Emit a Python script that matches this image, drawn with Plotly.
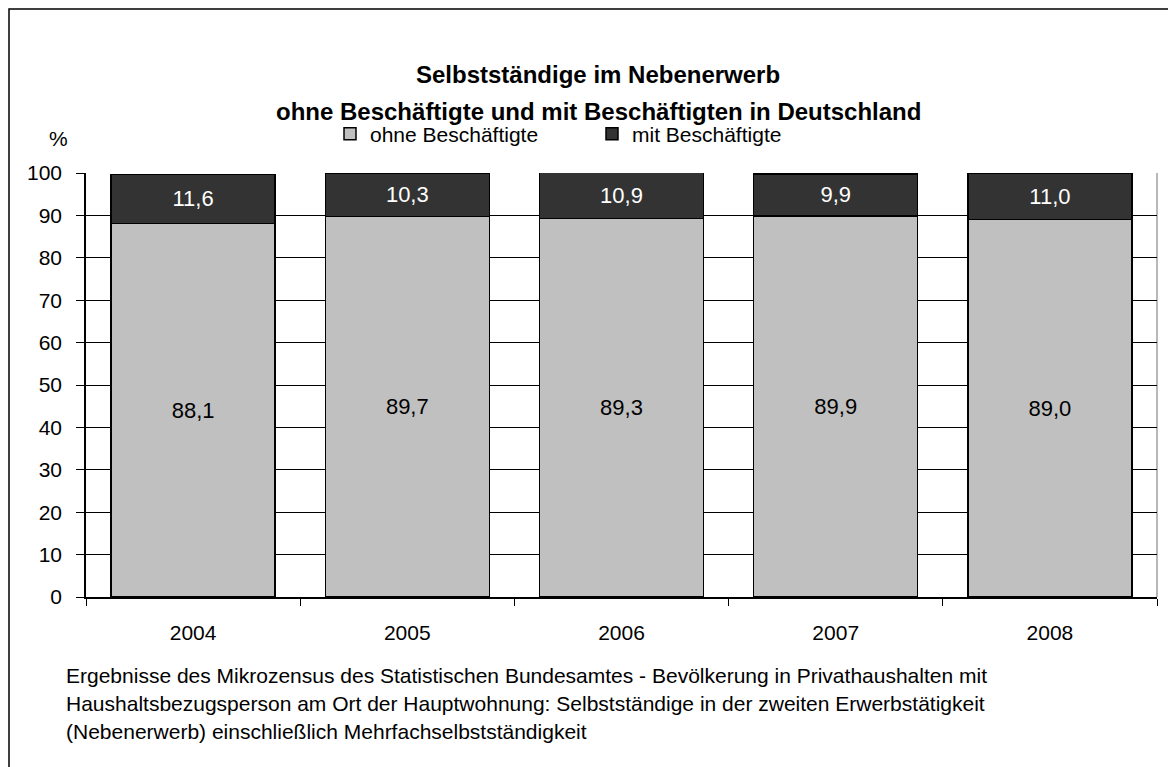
import plotly.graph_objects as go

years = ["2004", "2005", "2006", "2007", "2008"]
ohne = [88.1, 89.7, 89.3, 89.9, 89.0]
mit = [11.6, 10.3, 10.9, 9.9, 11.0]
series_names = ["ohne Beschäftigte", "mit Beschäftigte"]
title_lines = ["Selbstständige im Nebenerwerb",
               "ohne Beschäftigte und mit Beschäftigten in Deutschland"]
footnote_lines = [
    "Ergebnisse des Mikrozensus des Statistischen Bundesamtes - Bevölkerung in Privathaushalten mit",
    "Haushaltsbezugsperson am Ort der Hauptwohnung: Selbstständige in der zweiten Erwerbstätigkeit",
    "(Nebenerwerb) einschließlich Mehrfachselbstständigkeit",
]
y_ticks = [0, 10, 20, 30, 40, 50, 60, 70, 80, 90, 100]

FONT = "Liberation Sans, Arial, sans-serif"

# the page body has an 8px default margin; build the figure in window coordinates
OFF = 8
WIN_W, WIN_H = 1176, 767
W, H = WIN_W - OFF, WIN_H - OFF
PL, PR, PT, PB = 86, 1157, 173, 597  # plot area in window pixels
L, T = PL - OFF, PT - OFF
R, B = W - (PR - OFF), H - (PB - OFF)
pw, ph = PR - PL, PB - PT

def px_x(x):
    return (x - PL) / pw

def px_y(y):
    return (PB - y) / ph

fig = go.Figure()
fig.add_trace(go.Bar(
    x=years, y=ohne, name=series_names[0],
    marker=dict(color="#C0C0C0", line=dict(color="#000000", width=1.5)),
    texttemplate="%{y:.1f}", textposition="inside", insidetextanchor="middle",
    textfont=dict(color="#000000", size=22, family=FONT),
))
fig.add_trace(go.Bar(
    x=years, y=mit, name=series_names[1],
    marker=dict(color="#333333", line=dict(color="#000000", width=1.5)),
    texttemplate="%{y:.1f}", textposition="inside", insidetextanchor="middle",
    textfont=dict(color="#FFFFFF", size=22, family=FONT),
))

annotations = []
title_y = [74, 111]
for line, yy in zip(title_lines, title_y):
    annotations.append(dict(
        text="<b>" + line + "</b>", x=px_x(598), y=px_y(yy), xref="paper", yref="paper",
        xanchor="center", yanchor="middle", showarrow=False,
        font=dict(size=24, color="#000000", family=FONT)))
for i, line in enumerate(footnote_lines):
    annotations.append(dict(
        text=line, x=px_x(64), y=px_y(675 + 28 * i), xref="paper", yref="paper",
        xanchor="left", yanchor="middle", showarrow=False,
        font=dict(size=21, color="#000000", family=FONT)))
annotations.append(dict(
    text="%", x=px_x(58), y=px_y(138), xref="paper", yref="paper",
    xanchor="center", yanchor="middle", showarrow=False,
    font=dict(size=21, color="#000000", family=FONT)))

fig.update_layout(
    width=W, height=H,
    margin=dict(l=L, r=R, t=T, b=B, autoexpand=False),
    barmode="stack", bargap=0.234,
    separators=",.",
    paper_bgcolor="#FFFFFF", plot_bgcolor="#FFFFFF",
    font=dict(family=FONT, color="#000000"),
    showlegend=True,
    legend=dict(
        orientation="h", x=px_x(330), y=px_y(134), xanchor="left", yanchor="middle",
        font=dict(size=21, family=FONT), entrywidth=217, entrywidthmode="pixels",
        itemwidth=30, traceorder="normal", bgcolor="rgba(0,0,0,0)",
    ),
    annotations=annotations,
    shapes=[
        dict(type="rect", xref="paper", yref="paper",
             x0=px_x(OFF + 1), x1=px_x(WIN_W + 30), y0=px_y(OFF + 1), y1=px_y(WIN_H + 30),
             line=dict(color="#000000", width=1.5), fillcolor="rgba(0,0,0,0)", layer="below"),
        dict(type="line", xref="paper", yref="paper", x0=1, x1=1, y0=0, y1=1,
             line=dict(color="#A0A0A0", width=1.5), layer="below"),
    ],
    xaxis=dict(
        type="category", tickson="boundaries", ticks="outside", ticklen=7,
        tickcolor="#000000", tickwidth=1, showgrid=False,
        showline=True, linecolor="#000000", linewidth=1.5,
        tickfont=dict(size=21, family=FONT), ticklabelstandoff=16,
    ),
    yaxis=dict(
        range=[0, 100], tickvals=y_ticks, ticks="outside", ticklen=8,
        tickcolor="#000000", showgrid=True, gridcolor="#000000", gridwidth=1,
        showline=True, linecolor="#000000", linewidth=1.5, zeroline=False,
        tickfont=dict(size=21, family=FONT), ticklabelstandoff=10,
    ),
)

fig.write_html("out.html")
